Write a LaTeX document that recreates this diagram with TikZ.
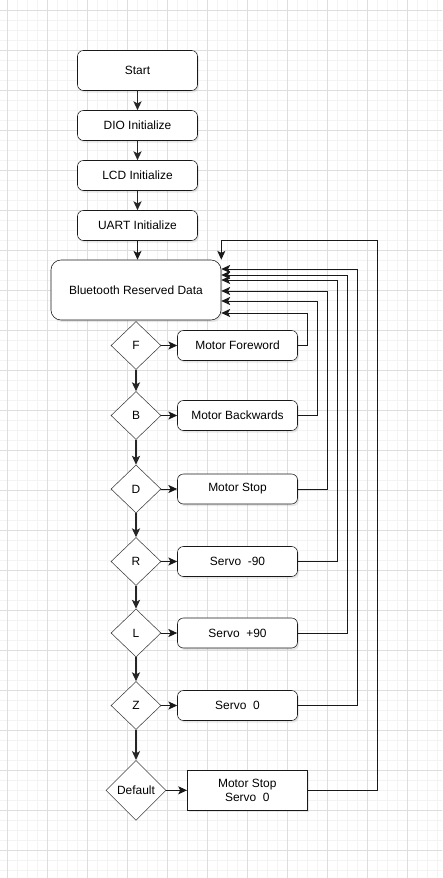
\documentclass[tikz,border=0pt]{standalone}
\usepackage{fontspec}
\setmainfont{Liberation Sans}
\usetikzlibrary{shapes.geometric,arrows.meta,shadows}
\definecolor{gridminor}{HTML}{F3F3F3}
\definecolor{gridmajor}{HTML}{DEDEDE}

\begin{document}
\begin{tikzpicture}[
  x=0.025cm, y=-0.025cm,
  font=\fontsize{8.5}{10.5}\selectfont,
  box/.style={draw=black!90, fill=white, rounded corners=0.15cm,
              align=center, minimum width=3cm, minimum height=0.75cm,
              inner sep=1pt,
              drop shadow={opacity=0.18, shadow xshift=1pt, shadow yshift=-1.5pt}},
  plainbox/.style={box, rounded corners=0pt},
  decision/.style={diamond, draw=black!75, fill=white, aspect=1,
                   inner sep=0pt, minimum width=1.25cm, minimum height=1.2cm},
  flow/.style={draw=black!85, line width=1.2pt,
               -{Stealth[length=2.2mm, width=2mm, inset=0.5mm]}},
  link/.style={draw=black!90, line width=0.7pt,
               -{Stealth[length=2.2mm, width=2mm, inset=0.5mm]}},
  back/.style={link, rounded corners=0pt}
]
\useasboundingbox (0,0) rectangle (442,878);

% background grid
\foreach \i in {0,...,43}
  \draw[gridminor, line width=0.4pt] (7+10*\i,0) -- (7+10*\i,878);
\foreach \j in {1,...,87}
  \draw[gridminor, line width=0.4pt] (0,10*\j) -- (442,10*\j);
\foreach \i in {0,...,10}
  \draw[gridmajor, line width=0.5pt] (7+40*\i,0) -- (7+40*\i,878);
\foreach \j in {0,...,21}
  \draw[gridmajor, line width=0.5pt] (0,10+40*\j) -- (442,10+40*\j);

% initialisation column
\node[box, minimum height=1cm] (start) at (137.5,70.5) {Start};
\node[box] (dio) at (137.5,125.5) {DIO Initialize};
\node[box] (lcd) at (137.5,175.5) {LCD Initialize};
\node[box] (uart) at (137.5,225.5) {UART Initialize};
\node[box, rounded corners=0.25cm, minimum width=4.25cm,
      minimum height=1.5cm] (bt) at (136,290) {Bluetooth Reserved Data};

% decisions
\node[decision] (f) at (136,345.5) {F};
\node[decision] (b) at (136,415.5) {B};
\node[decision] (d) at (136,489) {D};
\node[decision] (r) at (136,561.5) {R};
\node[decision] (l) at (136,633) {L};
\node[decision] (z) at (136,705.5) {Z};
\node[decision, minimum width=1.5cm, minimum height=1.5cm] (dflt) at (136,790.3) {Default};

% actions
\node[box] (mfwd) at (237.5,345.5) {Motor Foreword};
\node[box] (mbwd) at (237.5,415.5) {Motor Backwards};
\node[box] (mstop) at (237.5,489) {Motor Stop};
\node[box] (srvm) at (237.5,561.5) {Servo~~-90};
\node[box] (srvp) at (237.5,633) {Servo~~+90};
\node[box] (srvz) at (237.5,705.5) {Servo~~0};
\node[plainbox, minimum height=1cm] (stopall) at (247.3,790.3) {Motor Stop\\Servo~~0};

% main chain
\foreach \a/\b in {start/dio, dio/lcd, lcd/uart, f/b, b/d, d/r, r/l, l/z, z/dflt}
  \draw[flow] (\a.south) -- (\b.north);
\draw[link] (uart.south) -- (uart.south |- bt.north);

% decision -> action
\foreach \a/\b in {f/mfwd, b/mbwd, d/mstop, r/srvm, l/srvp, z/srvz, dflt/stopall}
  \draw[link] (\a.east) -- (\b.west);

% back to the receiver
\foreach \n/\xx/\yy in {mfwd/307/313, mbwd/317/301, mstop/327/291,
                        srvm/337/280, srvp/347/275, srvz/357/269}
  \draw[back] (\n.east) -| (\xx,\yy) -- (bt.east |- 0,\yy);
\draw[back] (stopall.east) -| (377,240) -| (bt.north east);
\end{tikzpicture}
\end{document}
